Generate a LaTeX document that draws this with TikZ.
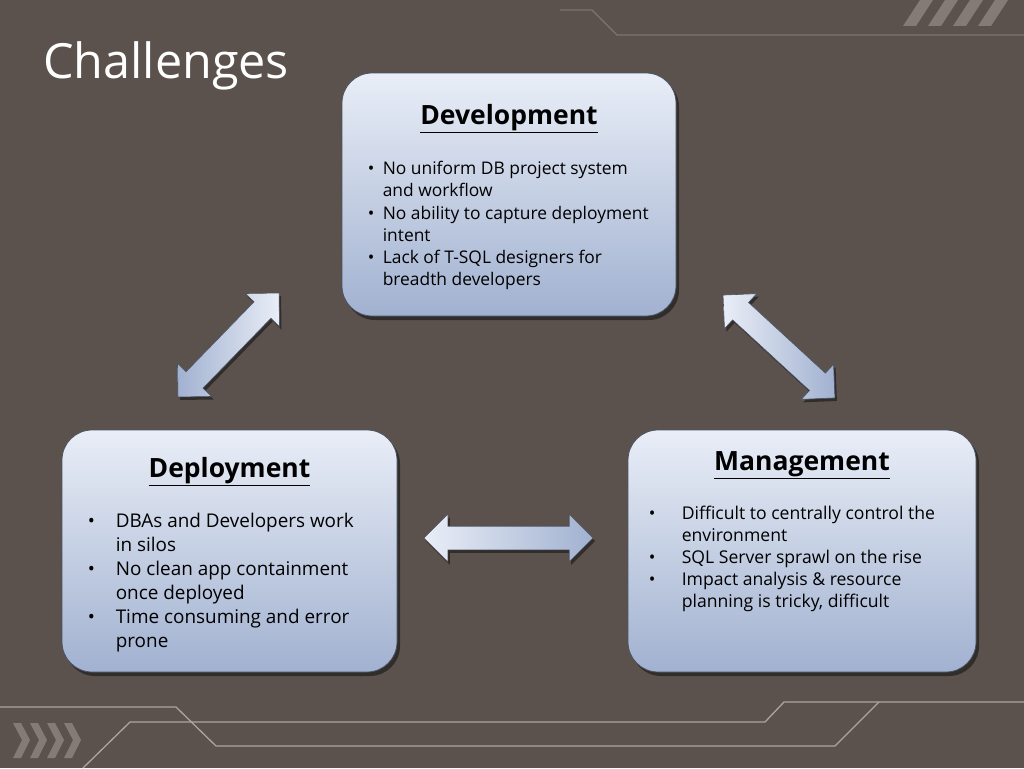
\documentclass[tikz,border=0pt]{standalone}
\usepackage{fontspec}
\setmainfont{Open Sans}
\usetikzlibrary{shapes.arrows, positioning, calc, shadows}
\definecolor{slide}{HTML}{5B524D}
\definecolor{panelTop}{HTML}{E9EEF7}
\definecolor{panelBot}{HTML}{A1B1D0}
\definecolor{panelEdge}{HTML}{4A5262}
\definecolor{decoLine}{HTML}{ADA49E}
\definecolor{decoDim}{HTML}{7E756F}
\definecolor{decoMark}{HTML}{847B76}
\tikzset{panel/.style={rectangle,draw=panelEdge,line width=0.8pt,rounded corners=30pt,top color=panelTop,bottom color=panelBot,drop shadow={shadow xshift=3pt,shadow yshift=-4pt,fill=black,opacity=0.45}},
         heading/.style={font=\fontsize{26.5}{30}\selectfont\bfseries,text=black,inner sep=0pt,anchor=base},
         itemlist/.style={align=left,inner sep=0pt,text=black,anchor=base west},
         bigarrow/.style={double arrow,double arrow head extend=12pt,double arrow tip angle=90,inner xsep=0pt,inner ysep=11.5pt,draw=panelEdge,line width=0.6pt,drop shadow={shadow xshift=2pt,shadow yshift=-3pt,fill=black,opacity=0.45}},
         deco/.style={draw=decoLine,line width=1.3pt},
         title/.style={font=\fontsize{48.5}{52}\selectfont,text=white,anchor=base west,inner sep=0pt}}
\renewcommand{\arraystretch}{1}

\begin{document}
\begin{tikzpicture}[x=1pt,y=-1pt]
    % Slide background
    \fill[slide] (0,0) rectangle (1024,768);
    \useasboundingbox (0,0) rectangle (1024,768);
    % Decorations
    \draw[draw=decoDim,line width=1.2pt] (560,10) -- (592,10) -- (617,35) -- (1024,35);
    \foreach \x in {903,928,953,978}
      \fill[decoMark] (\x,26) -- ++(13,0) -- ++(17,-26) -- ++(-13,0) -- cycle;
    \draw[deco] (0,707) -- (176,707) -- (216,746) -- (835,746) -- (879,702) -- (1024,702);
    \draw[deco] (83,768) -- (130,722) -- (765,722) -- (784,702) -- (879,702);
    \foreach \x in {13,30,47,64}
      \fill[decoMark] (\x,723) -- ++(8,0) -- ++(9,17) -- ++(-9,18) -- ++(-8,0) -- ++(9,-18) -- cycle;
    % Title
    \node[title] (title) at (43,78) {Challenges};
    % Panels
    \node (dev) [panel, minimum width=334pt, minimum height=243pt] at (509,194.5) {};
    \node (dep) [panel, minimum width=335pt, minimum height=242pt] at (229.5,551) {};
    \node (mgmt) [panel, minimum width=348pt, minimum height=242pt] at (802,551) {};
    % Headings
    \node[heading] (devhead) at ($(dev.north)+(0,52)$) {\underline{Development}};
    \node[heading] (dephead) at ($(dep.north)+(0,48)$) {\underline{Deployment}};
    \node[heading] (mgmthead) at ($(mgmt.north)+(0,41)$) {\underline{Management}};
    % Bullet lists
    \node[itemlist, font=\fontsize{17.4}{22.2}\selectfont] (devlist) at ($(dev.north west)+(26,102)$)
      {\begin{tabular}[t]{@{}p{15pt}@{}l@{}}
        \textbullet & No uniform DB project system\\
                    & and workflow\\
        \textbullet & No ability to capture deployment\\
                    & intent\\
        \textbullet & Lack of T-SQL designers for\\
                    & breadth developers
      \end{tabular}};
    \node[itemlist, font=\fontsize{18.9}{24}\selectfont] (deplist) at ($(dep.north west)+(26,98)$)
      {\begin{tabular}[t]{@{}p{28pt}@{}l@{}}
        \textbullet & DBAs and Developers work\\
                    & in silos\\
        \textbullet & No clean app containment\\
                    & once deployed\\
        \textbullet & Time consuming and error\\
                    & prone
      \end{tabular}};
    \node[itemlist, font=\fontsize{17.6}{22}\selectfont] (mgmtlist) at ($(mgmt.north west)+(21,90)$)
      {\begin{tabular}[t]{@{}p{33pt}@{}l@{}}
        \textbullet & Difficult to centrally control the\\
                    & environment\\
        \textbullet & SQL Server sprawl on the rise\\
        \textbullet & Impact analysis \& resource\\
                    & planning is tricky, difficult
      \end{tabular}};
    % Two-headed arrows between panels
    \node (devdep) [bigarrow, minimum height=145pt, rotate=45.8, left color=panelBot, right color=panelTop] at (228.5,345) {};
    \node (devmgmt) [bigarrow, minimum height=152pt, rotate=-42.6, left color=panelTop, right color=panelBot] at (779,346.5) {};
    \node (depmgmt) [bigarrow, minimum height=169pt, left color=panelTop, right color=panelBot] at (508.5,538) {};
\end{tikzpicture}
\end{document}
